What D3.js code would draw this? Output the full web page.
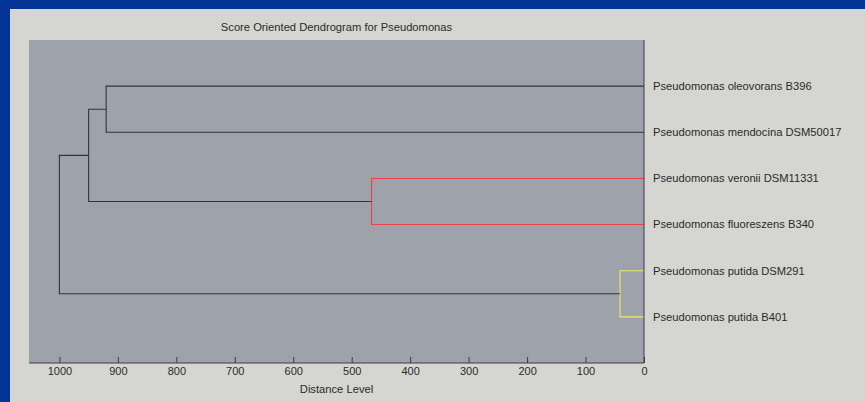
<!DOCTYPE html>
<html>
<head>
<meta charset="utf-8">
<script src="https://cdn.jsdelivr.net/npm/d3@7"></script>
<style>
  html, body { margin: 0; padding: 0; background: #033596; }
  svg { display: block; }
  text { font-family: "Liberation Sans", Arial, sans-serif; fill: #2a2a2a; }
</style>
</head>
<body>
<svg id="chart" width="865" height="402"></svg>
<script>
// Leaf labels, top to bottom
const leaves = [
  "Pseudomonas oleovorans B396",
  "Pseudomonas mendocina DSM50017",
  "Pseudomonas veronii DSM11331",
  "Pseudomonas fluoreszens B340",
  "Pseudomonas putida DSM291",
  "Pseudomonas putida B401"
];
// Merge steps: [left child, right child, distance, colour group]
// children are leaf indices (0..5) or "n<k>" for the k-th merge
const merges = [
  [4, 5, 41, "yellow"],
  [2, 3, 466, "red"],
  [0, 1, 920, "black"],
  ["n2", "n1", 950, "black"],
  ["n3", "n0", 1000, "black"]
];
const xTicks = [1000, 900, 800, 700, 600, 500, 400, 300, 200, 100, 0];
const title = "Score Oriented Dendrogram for Pseudomonas";
const xLabel = "Distance Level";

const colours = { black: "#30343c", red: "#e8424a", yellow: "#ecea66" };

const svg = d3.select("#chart");
// light figure panel inside the blue frame
svg.append("rect").attr("x", 10).attr("y", 9).attr("width", 855).attr("height", 393)
  .attr("fill", "#d5d6d1");

const plot = { left: 29, right: 644, top: 40, bottom: 363 };
const x = d3.scaleLinear().domain([1052, 0]).range([plot.left, plot.right]);
const y = d3.scaleLinear().domain([0, leaves.length + 1]).range([plot.top, plot.bottom]);

svg.append("rect")
  .attr("x", plot.left).attr("y", plot.top)
  .attr("width", plot.right - plot.left).attr("height", plot.bottom - plot.top)
  .attr("fill", "#9da2ab");

// node positions: leaves sit at distance 0, merges at their distance
const pos = {};
leaves.forEach((name, i) => { pos[i] = { d: 0, yv: i + 1 }; });
const g = svg.append("g").attr("fill", "none").attr("stroke-width", 1.1);
merges.forEach((m, k) => {
  const [a, b, d, col] = m;
  const pa = pos[a], pb = pos[b];
  const path = d3.path();
  path.moveTo(x(pa.d), y(pa.yv));
  path.lineTo(x(d), y(pa.yv));
  path.lineTo(x(d), y(pb.yv));
  path.lineTo(x(pb.d), y(pb.yv));
  g.append("path").attr("d", path.toString()).attr("stroke", colours[col]);
  pos["n" + k] = { d: d, yv: (pa.yv + pb.yv) / 2 };
});

// bottom axis, ticks pointing into the plot
const xAxis = d3.axisBottom(x).tickValues(xTicks).tickFormat(d3.format("d"))
  .tickSizeInner(-6).tickSizeOuter(0).tickPadding(4);
const ax = svg.append("g").attr("transform", `translate(0,${plot.bottom})`).call(xAxis);
ax.select(".domain").attr("stroke", "#3a3d44").attr("d", `M${plot.left},0H${plot.right}`);
ax.selectAll(".tick line").attr("stroke", "#3a3d44");
ax.selectAll(".tick text").attr("font-size", 11).attr("fill", "#2a2a2a")
  .attr("font-family", '"Liberation Sans", Arial, sans-serif');

// right axis line with leaf labels
svg.append("line").attr("x1", plot.right).attr("x2", plot.right)
  .attr("y1", plot.top).attr("y2", plot.bottom).attr("stroke", "#3a3d44");
svg.append("g").selectAll("text").data(leaves).join("text")
  .attr("x", plot.right + 9).attr("y", (d, i) => y(i + 1))
  .attr("dy", "0.35em").attr("font-size", 11.2).text(d => d);

svg.append("text").attr("x", (plot.left + plot.right) / 2).attr("y", 31)
  .attr("text-anchor", "middle").attr("font-size", 11.2).text(title);
svg.append("text").attr("x", (plot.left + plot.right) / 2).attr("y", 393)
  .attr("text-anchor", "middle").attr("font-size", 11.2).text(xLabel);
</script>
</body>
</html>
